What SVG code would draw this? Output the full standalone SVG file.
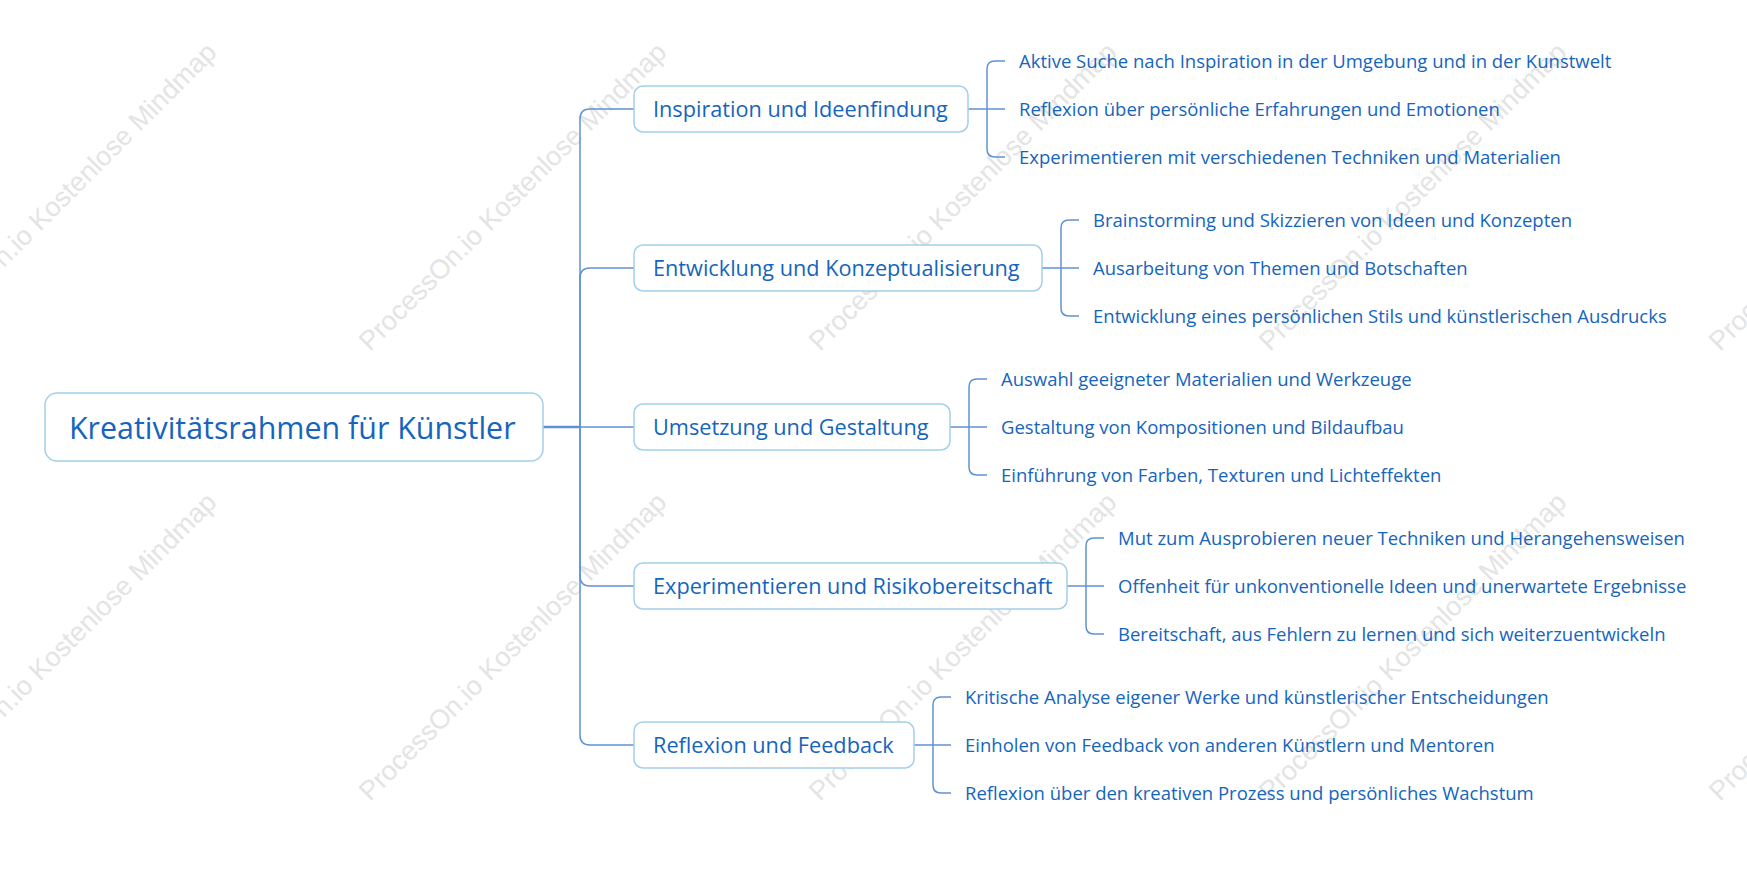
<svg xmlns="http://www.w3.org/2000/svg" width="1747" height="870" viewBox="0 0 1747 870">
<style>
.wm{font-family:"Liberation Sans",Arial,sans-serif;font-size:27px;fill:#e4e4e4}
.line{fill:none;stroke:#5f92d4;stroke-width:1.5}
.root{fill:#fff;stroke:#a3cfea;stroke-width:1.5}
.node{fill:#fff;stroke:#a3cfea;stroke-width:1.5}
.rt{font-family:"Open Sans","Noto Sans",sans-serif;font-size:30.4px;fill:#1565bd}
.nt{font-family:"Open Sans","Noto Sans",sans-serif;font-size:21.7px;fill:#1565bd}
.st{font-family:"Open Sans","Noto Sans",sans-serif;font-size:18.5px;fill:#1565bd}
</style>
<rect width="1747" height="870" fill="#fff"/>
<g id="watermark">
<text class="wm" transform="translate(-80,352) rotate(-45)">ProcessOn.io Kostenlose Mindmap</text>
<text class="wm" transform="translate(370,352) rotate(-45)">ProcessOn.io Kostenlose Mindmap</text>
<text class="wm" transform="translate(820,352) rotate(-45)">ProcessOn.io Kostenlose Mindmap</text>
<text class="wm" transform="translate(1270,352) rotate(-45)">ProcessOn.io Kostenlose Mindmap</text>
<text class="wm" transform="translate(1720,352) rotate(-45)">ProcessOn.io Kostenlose Mindmap</text>
<text class="wm" transform="translate(-80,802) rotate(-45)">ProcessOn.io Kostenlose Mindmap</text>
<text class="wm" transform="translate(370,802) rotate(-45)">ProcessOn.io Kostenlose Mindmap</text>
<text class="wm" transform="translate(820,802) rotate(-45)">ProcessOn.io Kostenlose Mindmap</text>
<text class="wm" transform="translate(1270,802) rotate(-45)">ProcessOn.io Kostenlose Mindmap</text>
<text class="wm" transform="translate(1720,802) rotate(-45)">ProcessOn.io Kostenlose Mindmap</text>
</g>
<g id="connectors">
<path class="line" style="stroke-width:2.5" d="M543 427 H580"/>
<path class="line" d="M580 427 V119 Q580 109 590 109 H634"/>
<path class="line" d="M580 427 V278 Q580 268 590 268 H634"/>
<path class="line" d="M580 427 H634"/>
<path class="line" d="M580 427 V576 Q580 586 590 586 H634"/>
<path class="line" d="M580 427 V735 Q580 745 590 745 H634"/>
<path class="line" d="M968 109 H1005 M1005 61 H995 Q987 61 987 69 V149 Q987 157 995 157 H1005"/>
<path class="line" d="M1042 268 H1079 M1079 220 H1069 Q1061 220 1061 228 V308 Q1061 316 1069 316 H1079"/>
<path class="line" d="M950 427 H987 M987 379 H977 Q969 379 969 387 V467 Q969 475 977 475 H987"/>
<path class="line" d="M1067 586 H1104 M1104 538 H1094 Q1086 538 1086 546 V626 Q1086 634 1094 634 H1104"/>
<path class="line" d="M914 745 H951 M951 697 H941 Q933 697 933 705 V785 Q933 793 941 793 H951"/>
</g>
<g id="root">
<rect class="root" x="45" y="393" width="498" height="68" rx="12"/>
<text class="rt" x="69" y="438.5">Kreativitätsrahmen für Künstler</text>
</g>
<g id="node1">
<rect class="node" x="634" y="86" width="334" height="46" rx="9"/>
<text class="nt" x="653" y="116.7">Inspiration und Ideenfindung</text>
</g>
<g id="node1-subs">
<text class="st" x="1019" y="67.8">Aktive Suche nach Inspiration in der Umgebung und in der Kunstwelt</text>
<text class="st" x="1019" y="115.8">Reflexion über persönliche Erfahrungen und Emotionen</text>
<text class="st" x="1019" y="163.8">Experimentieren mit verschiedenen Techniken und Materialien</text>
</g>
<g id="node2">
<rect class="node" x="634" y="245" width="408" height="46" rx="9"/>
<text class="nt" x="653" y="275.7">Entwicklung und Konzeptualisierung</text>
</g>
<g id="node2-subs">
<text class="st" x="1093" y="226.8">Brainstorming und Skizzieren von Ideen und Konzepten</text>
<text class="st" x="1093" y="274.8">Ausarbeitung von Themen und Botschaften</text>
<text class="st" x="1093" y="322.8">Entwicklung eines persönlichen Stils und künstlerischen Ausdrucks</text>
</g>
<g id="node3">
<rect class="node" x="634" y="404" width="316" height="46" rx="9"/>
<text class="nt" x="653" y="434.7">Umsetzung und Gestaltung</text>
</g>
<g id="node3-subs">
<text class="st" x="1001" y="385.8">Auswahl geeigneter Materialien und Werkzeuge</text>
<text class="st" x="1001" y="433.8">Gestaltung von Kompositionen und Bildaufbau</text>
<text class="st" x="1001" y="481.8">Einführung von Farben, Texturen und Lichteffekten</text>
</g>
<g id="node4">
<rect class="node" x="634" y="563" width="433" height="46" rx="9"/>
<text class="nt" x="653" y="593.7">Experimentieren und Risikobereitschaft</text>
</g>
<g id="node4-subs">
<text class="st" x="1118" y="544.8">Mut zum Ausprobieren neuer Techniken und Herangehensweisen</text>
<text class="st" x="1118" y="592.8">Offenheit für unkonventionelle Ideen und unerwartete Ergebnisse</text>
<text class="st" x="1118" y="640.8">Bereitschaft, aus Fehlern zu lernen und sich weiterzuentwickeln</text>
</g>
<g id="node5">
<rect class="node" x="634" y="722" width="280" height="46" rx="9"/>
<text class="nt" x="653" y="752.7">Reflexion und Feedback</text>
</g>
<g id="node5-subs">
<text class="st" x="965" y="703.8">Kritische Analyse eigener Werke und künstlerischer Entscheidungen</text>
<text class="st" x="965" y="751.8">Einholen von Feedback von anderen Künstlern und Mentoren</text>
<text class="st" x="965" y="799.8">Reflexion über den kreativen Prozess und persönliches Wachstum</text>
</g>
</svg>
